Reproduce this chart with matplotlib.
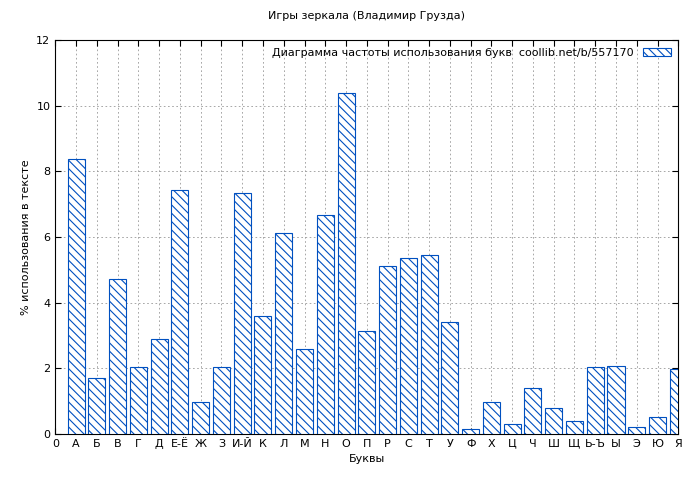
import numpy as np
import matplotlib.pyplot as plt

plt.rcParams.update({"font.family": "DejaVu Sans", "font.size": 8,
                     "hatch.color": "#0050c0", "hatch.linewidth": 0.8})

tick_labels = ["0", "А", "Б", "В", "Г", "Д", "Е-Ё", "Ж", "З", "И-Й", "К", "Л", "М", "Н", "О",
               "П", "Р", "С", "Т", "У", "Ф", "Х", "Ц", "Ч", "Ш", "Щ", "Ь-Ъ", "Ы", "Э", "Ю", "Я"]
values = [8.38, 1.71, 4.72, 2.04, 2.89, 7.43, 0.97, 2.04, 7.34, 3.59, 6.12, 2.59, 6.67, 10.39,
          3.14, 5.12, 5.36, 5.45, 3.41, 0.15, 0.97, 0.30, 1.40, 0.79, 0.40, 2.04, 2.07, 0.21,
          0.52, 1.98]

fig = plt.figure(figsize=(7, 4.8), dpi=100)
ax = fig.add_axes([0.079, 0.096, 0.89, 0.821])
x = np.arange(1, len(values) + 1)
ax.bar(x, values, width=0.82, facecolor="white", edgecolor="#0050c0", linewidth=0.8,
       hatch="\\\\\\\\", label="Диаграмма частоты использования букв  coollib.net/b/557170",
       zorder=3)
ax.set_xlim(0, 30)
ax.set_ylim(0, 12)
ax.set_xticks(np.arange(0, 31))
ax.set_xticklabels(tick_labels)
ax.set_yticks(np.arange(0, 13, 2))
ax.grid(True, linestyle=(0, (2, 3)), color="#999999", linewidth=0.6)
ax.tick_params(direction="in", length=4, top=True, right=True)
ax.set_xlabel("Буквы")
ax.set_ylabel("% использования в тексте")
ax.set_title("Игры зеркала (Владимир Грузда)", fontsize=8, pad=15)
leg = ax.legend(loc="upper right", frameon=False, markerfirst=False, handlelength=2.5,
                handleheight=0.8, borderaxespad=0.3)
plt.savefig("out.png")
